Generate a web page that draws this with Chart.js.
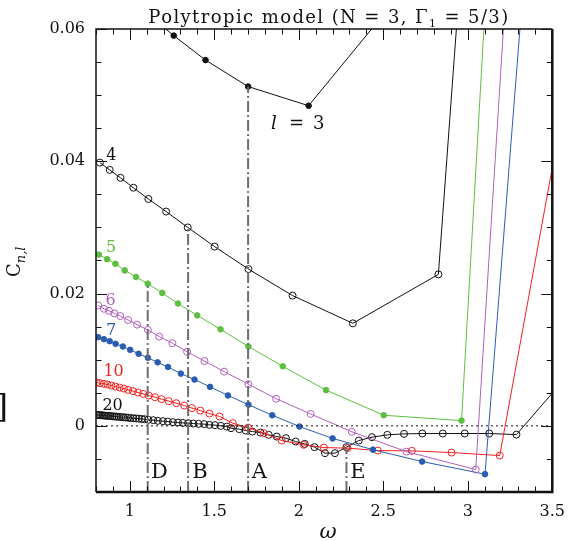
<!DOCTYPE html>
<html>
<head>
<meta charset="utf-8">
<script src="https://cdn.jsdelivr.net/npm/chart.js@4.4.1/dist/chart.umd.min.js"></script>
<style>
  html, body { margin: 0; padding: 0; background: #fff; }
</style>
</head>
<body>
<canvas id="chart" width="575" height="541"></canvas>
<script>
// axis ticks
const xTickLabels = [1, 1.5, 2, 2.5, 3, 3.5];
const yTickLabels = [0, 0.02, 0.04, 0.06];

// l = 3 (filled black)
const l3X = [1.08, 1.26, 1.448, 1.70, 2.058, 2.9];
const l3Y = [0.0628, 0.0590, 0.0553, 0.0513, 0.0484, 0.0746];

// l = 4 (open black)
const l4X = [0.823, 0.881, 0.945, 1.021, 1.110, 1.215, 1.343, 1.502, 1.702, 1.963, 2.320, 2.826, 2.99];
const l4Y = [0.0398, 0.0387, 0.0375, 0.0360, 0.0343, 0.0324, 0.0300, 0.0271, 0.0237, 0.0197, 0.0155, 0.0229, 0.08];

// l = 5 (filled green)
const l5X = [0.817, 0.866, 0.915, 0.970, 1.037, 1.106, 1.192, 1.285, 1.399, 1.537, 1.702, 1.905, 2.161, 2.503, 2.963, 3.14];
const l5Y = [0.0259, 0.0252, 0.0245, 0.0235, 0.0225, 0.0215, 0.0201, 0.0185, 0.0167, 0.0146, 0.0120, 0.0090, 0.0054, 0.0016, 0.0008, 0.08];

// l = 6 (open purple)
const l6X = [0.813, 0.847, 0.877, 0.909, 0.944, 0.990, 1.043, 1.107, 1.174, 1.252, 1.339, 1.442, 1.558, 1.702, 1.866, 2.070, 2.314, 2.637, 3.047, 3.26];
const l6Y = [0.0182, 0.0177, 0.0174, 0.0170, 0.0166, 0.0160, 0.0153, 0.0145, 0.0135, 0.0125, 0.0112, 0.0098, 0.0082, 0.0063, 0.0041, 0.0018, -0.0009, -0.0039, -0.0066, 0.08];

// l = 7 (filled blue)
const l7X = [0.813, 0.847, 0.881, 0.916, 0.959, 1.002, 1.052, 1.107, 1.165, 1.226, 1.302, 1.383, 1.475, 1.581, 1.702, 1.843, 2.004, 2.200, 2.439, 2.730, 3.102, 3.37];
const l7Y = [0.0134, 0.0131, 0.0128, 0.0124, 0.0120, 0.0115, 0.0109, 0.0103, 0.0096, 0.0089, 0.0079, 0.0070, 0.0059, 0.0046, 0.0032, 0.0016, -0.0001, -0.0019, -0.0036, -0.0054, -0.0073, 0.08];

// l = 10 (open red)
const l10X = [0.804, 0.823, 0.847, 0.868, 0.891, 0.915, 0.940, 0.965, 0.990, 1.019, 1.048, 1.079, 1.112, 1.149, 1.188, 1.230, 1.275, 1.322, 1.368, 1.417, 1.471, 1.531, 1.609, 1.700, 1.793, 1.899, 2.029, 2.148, 2.289, 2.468, 2.669, 2.904, 3.189, 3.6];
const l10Y = [0.00655, 0.00646, 0.00635, 0.00625, 0.00610, 0.00594, 0.00579, 0.00564, 0.00544, 0.00525, 0.00504, 0.00484, 0.00458, 0.00434, 0.00404, 0.00374, 0.00343, 0.00307, 0.00268, 0.00231, 0.00186, 0.00141, 0.00041, -0.00026, -0.00110, -0.00222, -0.00287, -0.00328, -0.00337, -0.00374, -0.00378, -0.00404, -0.00449, 0.053];

// l = 20 (open black, dense)
const l20X = [0.803, 0.812, 0.820, 0.829, 0.838, 0.847, 0.856, 0.866, 0.877, 0.887, 0.899, 0.911, 0.922, 0.935, 0.948, 0.962, 0.976, 0.990, 1.005, 1.021, 1.037, 1.054, 1.071, 1.088,
  1.110, 1.139, 1.166, 1.196, 1.225, 1.255, 1.285, 1.314, 1.345, 1.376, 1.407, 1.440, 1.471, 1.504, 1.539, 1.574,
  1.599, 1.648, 1.686, 1.725, 1.773, 1.822, 1.870, 1.924, 1.981, 2.035, 2.093, 2.155, 2.214, 2.282, 2.355, 2.433,
  2.524, 2.623, 2.731, 2.852, 2.982, 3.127, 3.288, 3.6];
const l20Y = [0.00166, 0.00164, 0.00162, 0.00160, 0.00159, 0.00156, 0.00154, 0.00151, 0.00150, 0.00147, 0.00144, 0.00142, 0.00139, 0.00136, 0.00133, 0.00130, 0.00127, 0.00123, 0.00119, 0.00115, 0.00112, 0.00109, 0.00104, 0.00100,
  0.00091, 0.00086, 0.00076, 0.00071, 0.00065, 0.00056, 0.00050, 0.00045, 0.00041, 0.00035, 0.00030, 0.00026, 0.00015, 0.00011, 0.00000, -0.00011,
  -0.00035, -0.00050, -0.00071, -0.00086, -0.00101, -0.00136, -0.00162, -0.00186, -0.00237, -0.00272, -0.00322, -0.00413, -0.00413, -0.00322, -0.00222, -0.00171,
  -0.00136, -0.00121, -0.00116, -0.00116, -0.00116, -0.00116, -0.00132, 0.0079];

// marked models D, B, A, E
const modelNames = ['D', 'B', 'A', 'E'];
const modelX = [1.106, 1.345, 1.700, 2.282];
const modelTop = [0.0215, 0.0300, 0.0513, -0.00322];

const curveNames = ['4', '5', '6', '7', '10', '20'];
const curveColors = ['#111', '#5dbf3f', '#b25fbf', '#2a5db0', '#f42020', '#111'];

const pts = (xs, ys) => xs.map((x, i) => ({ x: x, y: ys[i] }));

function series(xs, ys, color, filled) {
    return {
        data: pts(xs, ys),
        showLine: true,
        borderColor: color,
        borderWidth: 1,
        backgroundColor: color,
        pointBackgroundColor: filled ? color : 'rgba(0,0,0,0)',
        pointBorderColor: color,
        pointBorderWidth: 1,
        pointRadius: filled ? 2.8 : 3.5,
        tension: 0
    };
}

const datasets = [];
// vertical dash-dot model lines
modelX.forEach((mx, i) => {
    datasets.push({
        data: [{ x: mx, y: -0.01 }, { x: mx, y: modelTop[i] }],
        showLine: true,
        borderColor: '#6e6e6e',
        borderWidth: 2,
        borderDash: [11, 3, 2, 3],
        pointRadius: 0
    });
});
// zero line
datasets.push({
    data: [{ x: 0.8, y: 0 }, { x: 3.5, y: 0 }],
    showLine: true,
    borderColor: '#111',
    borderWidth: 1,
    borderDash: [2, 3],
    pointRadius: 0
});
datasets.push(series(l3X, l3Y, '#111', true));
datasets.push(series(l4X, l4Y, '#111', false));
datasets.push(series(l5X, l5Y, curveColors[1], true));
datasets.push(series(l6X, l6Y, curveColors[2], false));
datasets.push(series(l7X, l7Y, curveColors[3], true));
datasets.push(series(l10X, l10Y, curveColors[4], false));
datasets.push(series(l20X, l20Y, '#111', false));

// label anchors in data coordinates
const curveLabelX = [0.891, 0.889, 0.887, 0.889, 0.904, 0.898];
const curveLabelY = [0.0408, 0.0269, 0.0189, 0.0144, 0.0081, 0.0030];
const modelLabelX = [1.175, 1.415, 1.767, 2.350];

const SERIF = '"DejaVu Serif", "Liberation Serif", serif';

const decorations = {
    id: 'decorations',
    afterDraw(chart) {
        const { ctx, chartArea: a, scales: { x, y } } = chart;
        ctx.save();
        ctx.strokeStyle = '#111';
        ctx.fillStyle = '#111';

        // inward ticks on all four sides
        ctx.lineWidth = 1;
        ctx.beginPath();
        for (let i = 8; i <= 35; i++) {
            const px = Math.round(x.getPixelForValue(i / 10)) + 0.5;
            const len = i % 5 === 0 ? 11 : 5.5;
            ctx.moveTo(px, a.bottom); ctx.lineTo(px, a.bottom - len);
            ctx.moveTo(px, a.top); ctx.lineTo(px, a.top + len);
        }
        for (let j = -2; j <= 12; j++) {
            const py = Math.round(y.getPixelForValue(j * 0.005)) + 0.5;
            const len = j % 4 === 0 ? 11 : 5.5;
            ctx.moveTo(a.left, py); ctx.lineTo(a.left + len, py);
            ctx.moveTo(a.right, py); ctx.lineTo(a.right - len, py);
        }
        ctx.stroke();

        // frame
        ctx.lineWidth = 1.5;
        ctx.beginPath();
        ctx.moveTo(a.left, a.bottom); ctx.lineTo(a.left, a.top); ctx.lineTo(a.right, a.top);
        ctx.stroke();
        ctx.lineWidth = 2.5;
        ctx.beginPath();
        ctx.moveTo(a.right, a.top); ctx.lineTo(a.right, a.bottom); ctx.lineTo(a.left, a.bottom);
        ctx.stroke();

        // title with subscript
        const t1 = 'Polytropic model (N = 3, Γ', t2 = '1', t3 = ' = 5/3)';
        ctx.letterSpacing = '1.4px';
        ctx.font = '18px ' + SERIF;
        const w1 = ctx.measureText(t1).width, w3 = ctx.measureText(t3).width;
        ctx.font = '11px ' + SERIF;
        const w2 = ctx.measureText(t2).width;
        let tx = 329 - (w1 + w2 + w3) / 2;
        ctx.textAlign = 'left';
        ctx.textBaseline = 'alphabetic';
        ctx.font = '18px ' + SERIF;
        ctx.fillText(t1, tx, 23);
        ctx.font = '11px ' + SERIF;
        ctx.fillText(t2, tx + w1, 27);
        ctx.font = '18px ' + SERIF;
        ctx.fillText(t3, tx + w1 + w2, 23);
        ctx.letterSpacing = '0px';

        // curve labels
        ctx.textAlign = 'center';
        ctx.textBaseline = 'middle';
        ctx.font = '16px ' + SERIF;
        curveNames.forEach((n, i) => {
            ctx.fillStyle = curveColors[i];
            ctx.fillText(n, x.getPixelForValue(curveLabelX[i]), y.getPixelForValue(curveLabelY[i]));
        });
        ctx.fillStyle = '#111';

        // l = 3
        ctx.textAlign = 'left';
        ctx.textBaseline = 'alphabetic';
        const lx = x.getPixelForValue(1.835), ly = y.getPixelForValue(0.0449);
        ctx.font = 'italic 18px ' + SERIF;
        ctx.fillText('l', lx, ly);
        ctx.font = '18px ' + SERIF;
        ctx.fillText('=', lx + 18, ly);
        ctx.fillText('3', lx + 42, ly);

        // model letters
        ctx.textAlign = 'center';
        ctx.textBaseline = 'middle';
        ctx.font = '21px ' + SERIF;
        modelNames.forEach((n, i) => {
            ctx.fillText(n, x.getPixelForValue(modelLabelX[i]), y.getPixelForValue(-0.0070));
        });

        // x axis title
        ctx.font = 'italic 21px ' + SERIF;
        ctx.fillText('ω', 328, 533);

        // y axis title C_{n,l}
        ctx.save();
        ctx.translate(20, 277);
        ctx.rotate(-Math.PI / 2);
        ctx.textAlign = 'left';
        ctx.textBaseline = 'alphabetic';
        ctx.font = '18px ' + SERIF;
        ctx.fillText('C', 0, 0);
        const cw = ctx.measureText('C').width;
        ctx.font = 'italic 13px ' + SERIF;
        ctx.fillText('n,l', cw, 5);
        ctx.restore();

        // clipped bracket at left edge
        ctx.textAlign = 'right';
        ctx.textBaseline = 'alphabetic';
        ctx.font = '32px ' + SERIF;
        ctx.fillText(']', 8, 417);

        ctx.restore();
    }
};

new Chart(document.getElementById('chart'), {
    type: 'scatter',
    data: { datasets: datasets },
    options: {
        responsive: false,
        animation: false,
        layout: { padding: { top: 29, right: 15, left: 0, bottom: 0 } },
        plugins: {
            legend: { display: false },
            tooltip: { enabled: false },
            title: { display: false }
        },
        scales: {
            x: {
                type: 'linear',
                min: 0.8,
                max: 3.5,
                grid: { display: false, drawTicks: false },
                border: { display: false },
                afterBuildTicks: (s) => { s.ticks = xTickLabels.map(v => ({ value: v })); },
                afterFit: (s) => { s.height = 49; },
                ticks: {
                    padding: 10,
                    color: '#111',
                    font: { family: SERIF, size: 16 },
                    callback: (v) => String(v)
                }
            },
            y: {
                type: 'linear',
                min: -0.01,
                max: 0.06,
                grid: { display: false, drawTicks: false },
                border: { display: false },
                afterBuildTicks: (s) => { s.ticks = yTickLabels.map(v => ({ value: v })); },
                afterFit: (s) => { s.width = 96; },
                ticks: {
                    padding: 11,
                    color: '#111',
                    font: { family: SERIF, size: 16 },
                    callback: (v) => v === 0 ? '0' : v.toFixed(2)
                }
            }
        }
    },
    plugins: [decorations]
});
</script>
</body>
</html>
